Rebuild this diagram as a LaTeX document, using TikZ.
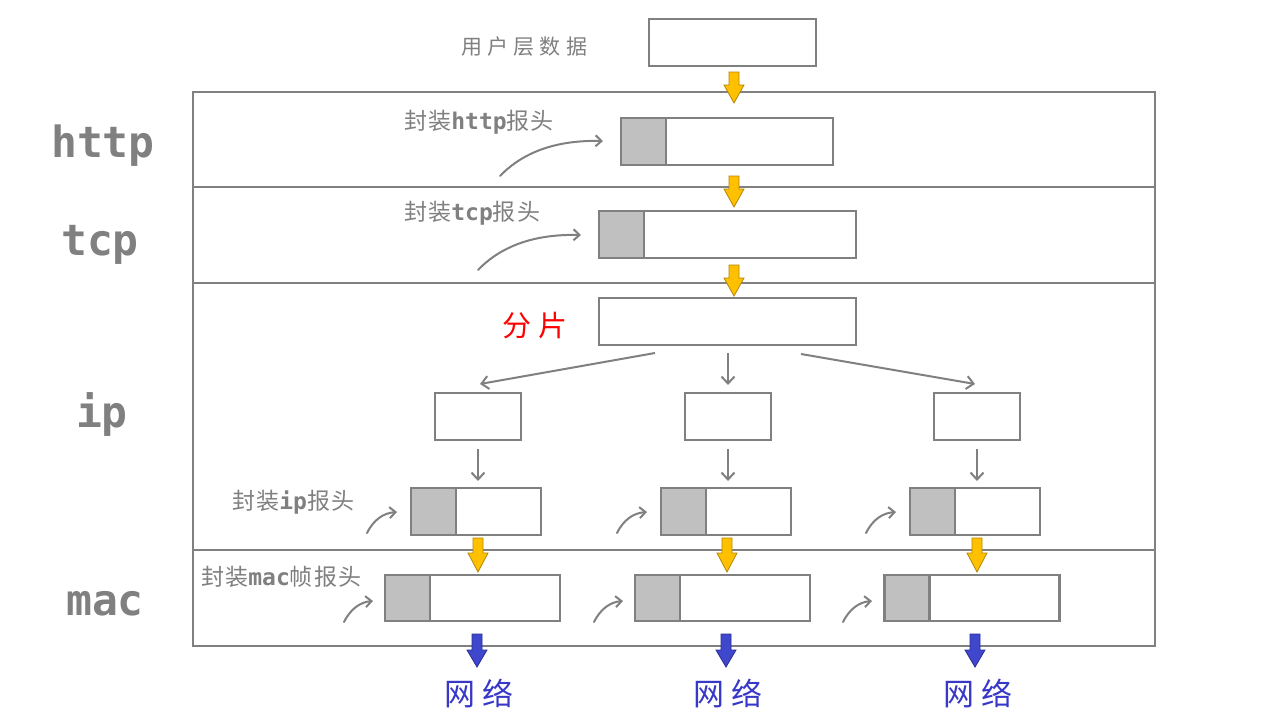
\documentclass[tikz,border=0pt]{standalone}
\usepackage{fontspec}
\setmonofont{DejaVu Sans Mono}
\newfontfamily\cjk[LetterSpace=5]{Noto Sans CJK SC}
\newfontfamily\cjkw[LetterSpace=25]{Noto Sans CJK SC}
\usetikzlibrary{arrows.meta}
\definecolor{lg}{RGB}{128,128,128}
\definecolor{hg}{RGB}{192,192,192}
\definecolor{yf}{RGB}{255,192,0}
\definecolor{yd}{RGB}{180,135,0}
\definecolor{bf}{RGB}{63,72,204}
\definecolor{bd}{RGB}{40,44,150}
\definecolor{bt}{RGB}{55,55,200}
\newcommand\blockarr[5]{\draw[#1] ({#2-5},#3) -- ({#2+5},#3) -- ({#2+5},#4) -- ({#2+10},#4) -- (#2,#5) -- ({#2-10},#4) -- ({#2-5},#4) -- cycle;}
\begin{document}
\begin{tikzpicture}[x=1pt,y=-1pt,
  box/.style={draw=lg, line width=2.5pt, fill=white, inner sep=0pt, outer sep=0pt},
  hdr/.style={draw=lg, line width=2.5pt, fill=hg, inner sep=0pt, outer sep=0pt, anchor=west, minimum width=45pt},
  frame/.style={draw=lg, line width=2.5pt},
  yarr/.style={fill=yf, draw=yd, line width=0.8pt},
  barr/.style={fill=bf, draw=bd, line width=0.8pt},
  garr/.style={draw=lg, line width=2pt, -{Straight Barb[length=7pt,width=13pt]}},
  carr/.style={draw=lg, line width=2pt, line cap=round, -{Straight Barb[length=6pt,width=11pt]}},
  layer/.style={text=lg, inner sep=0pt, anchor=base, font=\ttfamily\bfseries\fontsize{43}{50}\selectfont},
  note/.style={text=lg, inner sep=0pt, anchor=west, font=\fontsize{23}{27}\selectfont},
  net/.style={text=bt, inner sep=0pt, anchor=west, font=\cjkw\fontsize{31}{36}\selectfont}
]
\useasboundingbox (0,0) rectangle (1269,716);
\fill[white] (0,0) rectangle (1269,716);

% frame
\draw[frame] (193,92) rectangle (1155,646);
\draw[frame] (193,187) -- (1155,187);
\draw[frame] (193,283) -- (1155,283);
\draw[frame] (193,550) -- (1155,550);

% layer labels
\node[layer] (lhttp) at (103,157) {http};
\node[layer] (ltcp) at (100,255) {tcp};
\node[layer] (lip) at (102,427) {ip};
\node[layer] (lmac) at (105,615) {mac};

% top data
\node[text=lg, inner sep=0pt, anchor=west, font=\cjkw\fontsize{21}{25}\selectfont] (tuser) at (461,47) {用户层数据};
\node[box, minimum width=167pt, minimum height=47pt] (top) at (732.5,42.5) {};

% http
\node[note] (thttp) at (404,122) {{\cjk 封装}{\ttfamily\bfseries http}{\cjk 报头}};
\node[box, minimum width=212pt, minimum height=47pt] (http) at (727,141.5) {};
\node[hdr, minimum height=47pt] (hhttp) at (http.west) {};

% tcp
\node[note] (ttcp) at (404,213) {{\cjk 封装}{\ttfamily\bfseries tcp}{\cjk 报头}};
\node[box, minimum width=257pt, minimum height=47pt] (tcp) at (727.5,234.5) {};
\node[hdr, minimum height=47pt] (htcp) at (tcp.west) {};

% fragment
\node[text=red, inner sep=0pt, anchor=west, font=\cjkw\fontsize{29}{34}\selectfont] (tfrag) at (502,326) {分片};
\node[box, minimum width=257pt, minimum height=47pt] (frag) at (727.5,321.5) {};

% small boxes
\node[box, minimum width=86pt, minimum height=47pt] (s1) at (478,416.5) {};
\node[box, minimum width=86pt, minimum height=47pt] (s2) at (728,416.5) {};
\node[box, minimum width=86pt, minimum height=47pt] (s3) at (977,416.5) {};

% ip boxes
\node[note] (tip) at (232,502) {{\cjk 封装}{\ttfamily\bfseries ip}{\cjk 报头}};
\node[box, minimum width=130pt, minimum height=47pt] (ip1) at (476,511.5) {};
\node[box, minimum width=130pt, minimum height=47pt] (ip2) at (726,511.5) {};
\node[box, minimum width=130pt, minimum height=47pt] (ip3) at (975,511.5) {};
\node[hdr, minimum height=47pt] (hip1) at (ip1.west) {};
\node[hdr, minimum height=47pt] (hip2) at (ip2.west) {};
\node[hdr, minimum height=47pt] (hip3) at (ip3.west) {};

% mac boxes
\node[note] (tmac) at (201,577) {{\cjk 封装}{\ttfamily\bfseries mac}{\cjk 帧报头}};
\node[box, minimum width=175pt, minimum height=46pt] (mac1) at (472.5,598) {};
\node[box, minimum width=175pt, minimum height=46pt] (mac2) at (722.5,598) {};
\node[box, minimum width=175pt, minimum height=46pt] (mac3) at (972,598) {};
\node[hdr, minimum height=46pt] (hmac1) at (mac1.west) {};
\node[hdr, minimum height=46pt] (hmac2) at (mac2.west) {};
\node[hdr, minimum height=46pt] (hmac3) at (mac3.west) {};

% network labels
\node[net] (n1) at (444,693) {网络};
\node[net] (n2) at (693,693) {网络};
\node[net] (n3) at (943,693) {网络};

% yellow block arrows
\blockarr{yarr}{734}{72}{85}{103}
\blockarr{yarr}{734}{176}{189}{207}
\blockarr{yarr}{734}{265}{278}{296}
\blockarr{yarr}{478}{538}{553}{572}
\blockarr{yarr}{727}{538}{553}{572}
\blockarr{yarr}{977}{538}{553}{572}
% blue block arrows
\blockarr{barr}{477}{634}{650}{667}
\blockarr{barr}{726}{634}{650}{667}
\blockarr{barr}{975}{634}{650}{667}

% fragment arrows
\coordinate (f1a) at (655,353); \coordinate (f1b) at (480,384);
\coordinate (f3a) at (801,354); \coordinate (f3b) at (975,384);
\draw[garr] (f1a) -- (f1b);
\draw[garr, shorten <=8pt, shorten >=8pt] (frag.south -| s2.north) -- (s2.north);
\draw[garr] (f3a) -- (f3b);

% small boxes to ip boxes
\draw[garr, shorten <=9pt, shorten >=7pt] (s1.south) -- (s1.south |- ip1.north);
\draw[garr, shorten <=9pt, shorten >=7pt] (s2.south) -- (s2.south |- ip2.north);
\draw[garr, shorten <=9pt, shorten >=7pt] (s3.south) -- (s3.south |- ip3.north);

% curved arrows
\coordinate (ch1) at (500,176); \coordinate (ch2) at (603,141);
\draw[carr] (ch1) .. controls (525,150) and (560,140) .. (ch2);
\coordinate (ct1) at (478,270); \coordinate (ct2) at (581,235);
\draw[carr] (ct1) .. controls (503,244) and (538,234) .. (ct2);

\foreach \dx/\nm in {0/a,250/b,499/c}{
  \coordinate (ci1\nm) at ({367+\dx},533); \coordinate (ci2\nm) at ({397+\dx},512);
  \draw[carr] (ci1\nm) .. controls ({374+\dx},519) and ({384+\dx},513) .. (ci2\nm);
  \coordinate (cm1\nm) at ({344+\dx},622); \coordinate (cm2\nm) at ({373+\dx},601);
  \draw[carr] (cm1\nm) .. controls ({351+\dx},608) and ({361+\dx},602) .. (cm2\nm);
}
\end{tikzpicture}
\end{document}
